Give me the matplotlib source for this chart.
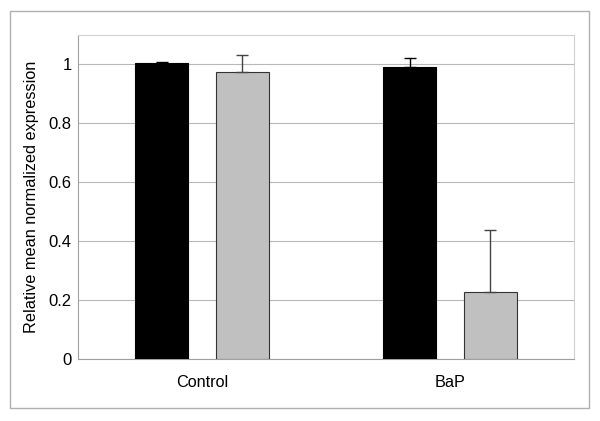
import matplotlib
matplotlib.use("Agg")
import matplotlib.pyplot as plt
from matplotlib.patches import Rectangle
import numpy as np

plt.rcParams["font.family"] = ["Liberation Sans", "DejaVu Sans"]

groups = ["Control", "BaP"]
black_vals = [1.006, 0.992]
black_err = [0.004, 0.030]
gray_vals = [0.976, 0.228]
gray_err = [0.057, 0.212]
yticks = [0, 0.2, 0.4, 0.6, 0.8, 1.0]
ytick_labels = ["0", "0.2", "0.4", "0.6", "0.8", "1"]

fig = plt.figure(figsize=(6.0, 4.21), dpi=100)
fig.patches.append(Rectangle((10 / 600, 13 / 421), 579 / 600, 397 / 421,
                             transform=fig.transFigure, fill=False,
                             edgecolor="#b0b0b0", lw=1))
ax = fig.add_axes([0.13, 0.1466, 0.8267, 0.7703])

x = np.arange(len(groups))
w = 0.214
off = 0.162
ax.bar(x - off, black_vals, w, color="black", edgecolor="black", lw=0.8,
       yerr=[np.zeros(2), black_err], error_kw=dict(ecolor="black", capsize=4, elinewidth=1, capthick=1),
       zorder=3)
ax.bar(x + off, gray_vals, w, color="#c0c0c0", edgecolor="#333333", lw=0.8,
       yerr=[np.zeros(2), gray_err], error_kw=dict(ecolor="#444444", capsize=4, elinewidth=1, capthick=1),
       zorder=3)

ax.set_xlim(-0.5, 1.5)
ax.set_ylim(0, 1.1)
ax.set_yticks(yticks)
ax.set_yticklabels(ytick_labels, fontsize=12)
ax.set_xticks(x)
ax.set_xticklabels(groups, fontsize=11.7)
ax.tick_params(length=0)
ax.tick_params(axis="y", pad=4.5)
ax.tick_params(axis="x", pad=11)
ax.grid(axis="y", color="#b8b8b8", lw=0.8, zorder=0)
ax.set_axisbelow(True)
for s in ax.spines.values():
    s.set_color("#d0d0d0")
    s.set_linewidth(0.8)
ax.spines["bottom"].set_color("#a0a0a0")
ax.spines["left"].set_color("#a0a0a0")
ax.set_ylabel("Relative mean normalized expression", fontsize=11.7, labelpad=7)

fig.savefig("out.png", dpi=100)
